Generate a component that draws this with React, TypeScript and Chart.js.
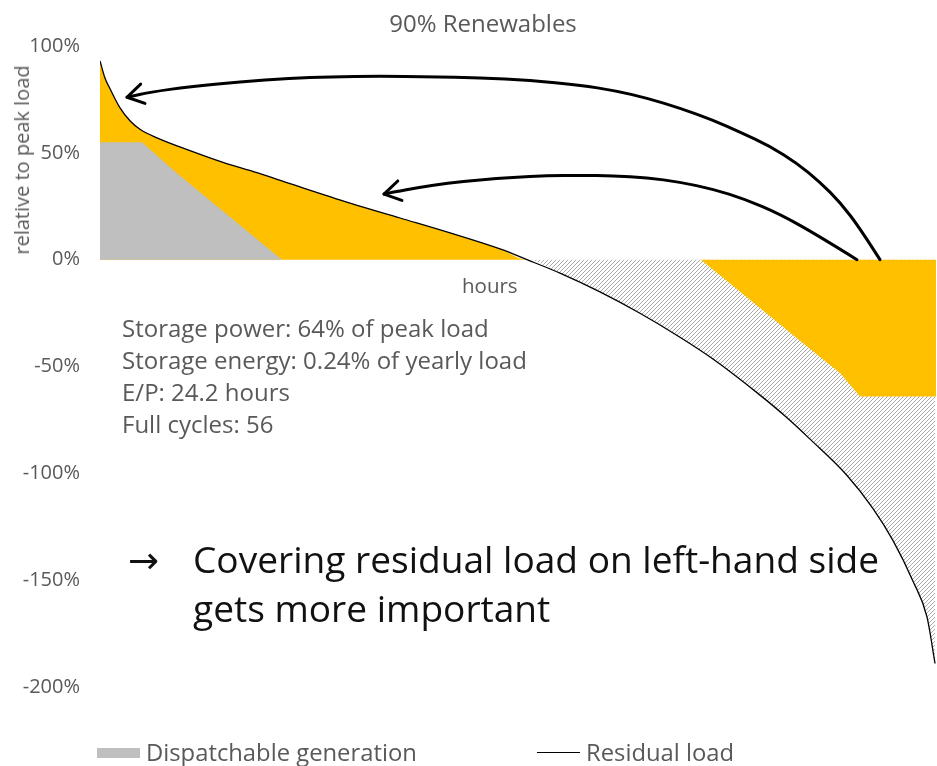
import React, { useEffect, useRef } from "react";
import { Chart, registerables } from "chart.js";

Chart.register(...registerables);

// Sorted residual load over the year (hour of year -> % of peak load)
const hours = [0, 52, 105, 210, 314, 419, 597, 943, 1289, 1645, 1991, 2620, 3144, 3668, 4191, 4474, 4820, 5239, 5658, 6077, 6423, 6916, 7199, 7440, 7828, 8100, 8310, 8519, 8666, 8750];
const residualLoad = [93, 85, 80, 71, 65, 61, 57, 51, 45.5, 40.7, 35.6, 26.5, 19.5, 12.5, 5, 0, -6.3, -15.1, -25.1, -36.3, -46.5, -63.4, -74, -84, -101, -116.5, -131.5, -150.5, -167.3, -189];

// Dispatchable generation covering the top of the residual load
const dispatchHours = [0, 440, 807, 1907];
const dispatchable = [55, 55, 40.4, 0];

// Surplus taken up by storage charging (capped at storage power)
const storageHours = [6297, 7335, 7754, 7964, 8760];
const storageCharge = [0, -38, -53, -64, -64];

const yTicks = [100, 50, 0, -50, -100, -150, -200];

// Curved arrows: shifting surplus energy to the left-hand side
const arrowLongHours = [8173, 7964, 7754, 7544, 7303, 7021, 6706, 6423, 6077, 5732, 5396, 5030, 4506, 3982, 3458, 2934, 2410, 1991, 1467, 943, 524, 283];
const arrowLongPct = [0, 14.7, 26.9, 36.3, 45.2, 53.1, 59.7, 65.3, 70.9, 75.6, 79.1, 81.7, 84.0, 85.2, 85.6, 85.9, 85.6, 84.9, 83.3, 81.0, 78.4, 76.0];
const arrowShortHours = [7932, 7544, 7125, 6758, 6423, 6077, 5732, 5375, 5030, 4684, 4327, 3982, 3636, 3353, 3070, 2976];
const arrowShortPct = [0, 10.8, 21.3, 28.3, 33.0, 36.3, 38.4, 39.3, 39.5, 39.3, 38.6, 37.4, 35.8, 33.9, 31.6, 30.7];

const infoLines = [
  "Storage power: 64% of peak load",
  "Storage energy: 0.24% of yearly load",
  "E/P: 24.2 hours",
  "Full cycles: 56",
];
const messageLines = ["Covering residual load on left-hand side", "gets more important"];

const ORANGE = "#FFC000";
const GREY = "#BFBFBF";
const TEXT = "#595959";
const FONT = '"Open Sans", "DejaVu Sans", sans-serif';

function hatchPattern(ctx: CanvasRenderingContext2D) {
  const tile = document.createElement("canvas");
  tile.width = 4;
  tile.height = 4;
  const t = tile.getContext("2d")!;
  t.fillStyle = "#ffffff";
  t.fillRect(0, 0, 4, 4);
  t.fillStyle = "#a8a8a8";
  for (let i = 0; i < 4; i++) t.fillRect(i, 3 - i, 1, 1);
  return ctx.createPattern(tile, "repeat")!;
}

const arrowPlugin = {
  id: "curvedArrows",
  afterDatasetsDraw(chart: any) {
    const { ctx, scales } = chart;
    const xs = scales.x;
    const ys = scales.y;
    const arrows: [number[], number[]][] = [
      [arrowLongHours, arrowLongPct],
      [arrowShortHours, arrowShortPct],
    ];
    arrows.forEach(([hs, ps]) => {
      const pts = hs.map((h, i) => ({ x: xs.getPixelForValue(h), y: ys.getPixelForValue(ps[i]) }));
      const n = pts.length;
      ctx.save();
      ctx.strokeStyle = "#000";
      ctx.lineWidth = 3;
      ctx.lineCap = "round";
      ctx.lineJoin = "round";
      ctx.beginPath();
      ctx.moveTo(pts[0].x, pts[0].y);
      for (let i = 1; i < n - 1; i++) {
        const mx = (pts[i].x + pts[i + 1].x) / 2;
        const my = (pts[i].y + pts[i + 1].y) / 2;
        ctx.quadraticCurveTo(pts[i].x, pts[i].y, mx, my);
      }
      ctx.lineTo(pts[n - 1].x, pts[n - 1].y);
      ctx.stroke();
      const tip = pts[n - 1];
      const prev = pts[n - 2];
      const ang = Math.atan2(prev.y - tip.y, prev.x - tip.x);
      const len = 19;
      const spread = 0.55;
      ctx.beginPath();
      ctx.moveTo(tip.x + len * Math.cos(ang - spread), tip.y + len * Math.sin(ang - spread));
      ctx.lineTo(tip.x, tip.y);
      ctx.lineTo(tip.x + len * Math.cos(ang + spread), tip.y + len * Math.sin(ang + spread));
      ctx.stroke();
      ctx.restore();
    });
  },
};

const abs = (extra: React.CSSProperties): React.CSSProperties => ({
  position: "absolute",
  whiteSpace: "nowrap",
  margin: 0,
  ...extra,
});

export default function App() {
  const canvasRef = useRef<HTMLCanvasElement>(null);

  useEffect(() => {
    const canvas = canvasRef.current!;
    const ctx = canvas.getContext("2d")!;
    const pts = (xs: number[], ys: number[]) => xs.map((x, i) => ({ x, y: ys[i] }));
    const chart = new Chart(ctx, {
      type: "line",
      data: {
        datasets: [
          {
            label: "Residual load",
            data: pts(hours, residualLoad),
            borderColor: "#000",
            borderWidth: 1.3,
            pointRadius: 0,
            fill: false,
            cubicInterpolationMode: "monotone",
            order: 0,
          },
          {
            label: "Dispatchable generation",
            data: pts(dispatchHours, dispatchable),
            borderWidth: 0,
            pointRadius: 0,
            backgroundColor: GREY,
            fill: "origin",
            order: 1,
          },
          {
            label: "Storage charging",
            data: pts(storageHours, storageCharge),
            borderWidth: 0,
            pointRadius: 0,
            backgroundColor: ORANGE,
            fill: "origin",
            order: 2,
          },
          {
            label: "Storage discharging",
            data: pts(hours, residualLoad.map((v) => Math.max(v, 0))),
            borderWidth: 0,
            pointRadius: 0,
            backgroundColor: ORANGE,
            fill: "origin",
            cubicInterpolationMode: "monotone",
            order: 3,
          },
          {
            label: "Surplus",
            data: pts(hours, residualLoad.map((v) => Math.min(v, 0))),
            borderWidth: 0,
            pointRadius: 0,
            backgroundColor: hatchPattern(ctx),
            fill: "origin",
            cubicInterpolationMode: "monotone",
            order: 4,
          },
        ],
      },
      options: {
        animation: false,
        responsive: false,
        layout: { padding: { top: 46, right: 1, bottom: 79, left: 0 } },
        plugins: { legend: { display: false }, tooltip: { enabled: false }, title: { display: false } },
        scales: {
          x: { type: "linear", min: 0, max: 8760, display: false },
          y: {
            min: -200,
            max: 100,
            grid: { display: false, drawTicks: false },
            border: { display: false },
            afterBuildTicks: (scale: any) => {
              scale.ticks = yTicks.map((v) => ({ value: v }));
            },
            afterFit: (scale: any) => {
              scale.width = 100;
            },
            ticks: {
              padding: 20,
              color: TEXT,
              font: { family: FONT, size: 20 },
              callback: (v: any) => `${v}%`,
            },
          },
        },
      },
      plugins: [arrowPlugin],
    });
    return () => chart.destroy();
  }, []);

  return (
    <div
      style={{
        position: "fixed",
        left: 0,
        top: 0,
        width: 937,
        height: 766,
        background: "#fff",
        fontFamily: FONT,
        color: TEXT,
        overflow: "hidden",
      }}
    >
      <canvas ref={canvasRef} width={937} height={766} style={{ position: "absolute", left: 0, top: 0 }} />
      <div style={abs({ left: 483, top: 9, fontSize: 24, lineHeight: "28px", transform: "translateX(-50%)" })}>
        90% Renewables
      </div>
      <div
        style={abs({
          left: 22,
          top: 160,
          fontSize: 20,
          lineHeight: "24px",
          transform: "translate(-50%, -50%) rotate(-90deg)",
        })}
      >
        relative to peak load
      </div>
      <div style={abs({ left: 462, top: 273, fontSize: 20.5, lineHeight: "24px" })}>hours</div>
      <div style={abs({ left: 122, top: 311.5, fontSize: 24, lineHeight: "32.3px" })}>
        {infoLines.map((t) => (
          <div key={t}>{t}</div>
        ))}
      </div>
      <div style={abs({ left: 128, top: 534, fontSize: 37.1, lineHeight: "49px", color: "#111" })}>→</div>
      <div style={abs({ left: 193, top: 534, fontSize: 37.1, lineHeight: "49px", color: "#111" })}>
        {messageLines.map((t) => (
          <div key={t}>{t}</div>
        ))}
      </div>
      <div style={abs({ left: 97, top: 748, width: 43, height: 10, background: GREY })} />
      <div style={abs({ left: 146, top: 738, fontSize: 23.8, lineHeight: "28px" })}>Dispatchable generation</div>
      <div style={abs({ left: 537, top: 752, width: 43, height: 1, background: "#000" })} />
      <div style={abs({ left: 586, top: 738, fontSize: 23.8, lineHeight: "28px" })}>Residual load</div>
    </div>
  );
}
